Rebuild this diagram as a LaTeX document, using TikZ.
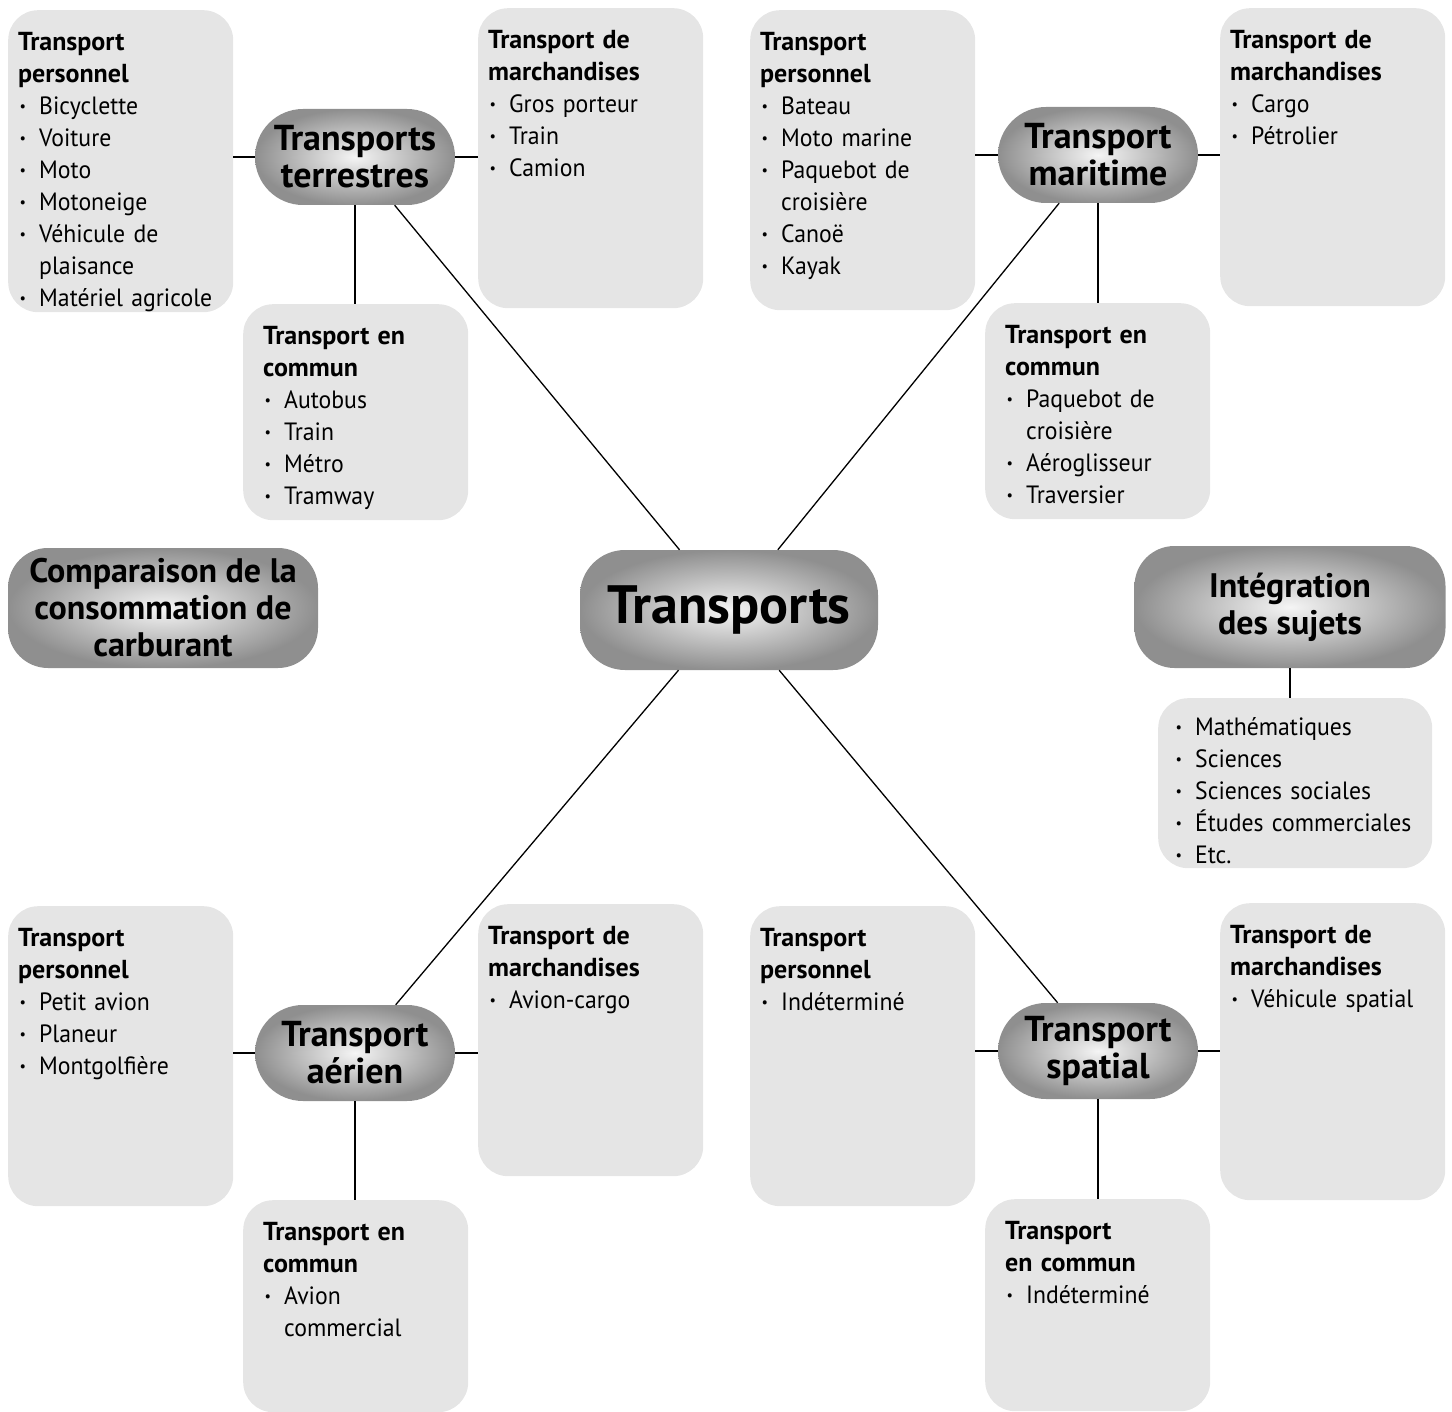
\documentclass[tikz,border=0pt]{standalone}
\usepackage{fontspec}
\setmainfont{PT Sans}[FakeStretch=0.95, BoldFeatures={FakeStretch=1.0}]
\usepackage{tikz}
\usetikzlibrary{shapes,arrows}
\tikzstyle{box} = [rectangle, fill=black!10, rounded corners=30pt, anchor=north west,
    text width=205pt, align=left, inner xsep=10pt, inner ysep=0pt, text height=40pt,
    font=\fontsize{25}{32}\selectfont]
\tikzstyle{hub} = [rectangle, rounded corners=48pt, inner color=black!4, outer color=black!44,
    align=center, inner sep=0pt, minimum width=200pt, minimum height=96pt,
    font=\fontsize{36}{37}\selectfont\bfseries]
\tikzstyle{line} = [draw, line width=1.3pt]
\newcommand\itm{\makebox[21pt][l]{\hspace{1.5pt}\raisebox{2.5pt}{\fontsize{15}{15}\selectfont\textbullet}}}
\newcommand\cont{\hspace*{21pt}}
\newcommand\hd[1]{{\fontsize{26}{32}\selectfont\bfseries #1}}

\begin{document}
\begin{tikzpicture}[x=1pt, y=-1pt]
\useasboundingbox (0,0) rectangle (1452,1412);

% centre
\node [hub, rounded corners=45pt, minimum width=298pt, minimum height=120pt,
    font=\fontsize{54}{56}\selectfont\bfseries] at (729,610) (ctr) {Transports};
\node [hub, rounded corners=40pt, minimum width=310pt, minimum height=120pt,
    font=\fontsize{34}{37}\selectfont\bfseries] at (163,608) (comp)
    {Comparaison de la\\consommation de\\carburant};
\node [hub, rounded corners=40pt, minimum width=311pt, minimum height=122pt,
    font=\fontsize{34}{37}\selectfont\bfseries] at (1290,607) (integ)
    {Intégration\\des sujets};
\node [box, inner xsep=16pt, text width=242pt, text height=37pt, text depth=133pt] at (1158,698) (sujets)
    {\itm Mathématiques\\ \itm Sciences\\ \itm Sciences sociales\\ \itm Études commerciales\\ \itm Etc.};

% terrestre
\node [hub] at (355,157) (hT) {Transports\\terrestres};
\node [box, text depth=262pt] at (8,10) (pT)
    {\hd{Transport}\\ \hd{personnel}\\ \itm Bicyclette\\ \itm Voiture\\ \itm Moto\\
     \itm Motoneige\\ \itm Véhicule de\\ \cont plaisance\\ \itm Matériel agricole};
\node [box, text depth=260pt] at (478,8) (mT)
    {\hd{Transport de}\\ \hd{marchandises}\\ \itm Gros porteur\\ \itm Train\\ \itm Camion};
\node [box, inner xsep=20pt, text width=185pt, text depth=176pt] at (243,304) (cT)
    {\hd{Transport en}\\ \hd{commun}\\ \itm Autobus\\ \itm Train\\ \itm Métro\\ \itm Tramway};

% maritime
\node [hub] at (1098,155) (hM) {Transport\\maritime};
\node [box, text depth=260pt] at (750,10) (pM)
    {\hd{Transport}\\ \hd{personnel}\\ \itm Bateau\\ \itm Moto marine\\ \itm Paquebot de\\
     \cont croisière\\ \itm Canoë\\ \itm Kayak};
\node [box, text depth=258pt] at (1220,8) (mM)
    {\hd{Transport de}\\ \hd{marchandises}\\ \itm Cargo\\ \itm Pétrolier};
\node [box, inner xsep=20pt, text width=185pt, text depth=176pt] at (985,303) (cM)
    {\hd{Transport en}\\ \hd{commun}\\ \itm Paquebot de\\ \cont croisière\\ \itm Aéroglisseur\\ \itm Traversier};

% aerien
\node [hub] at (355,1053) (hA) {Transport\\aérien};
\node [box, text depth=260pt] at (8,906) (pA)
    {\hd{Transport}\\ \hd{personnel}\\ \itm Petit avion\\ \itm Planeur\\ \itm Montgolfière};
\node [box, text depth=232pt] at (478,904) (mA)
    {\hd{Transport de}\\ \hd{marchandises}\\ \itm Avion-cargo};
\node [box, inner xsep=20pt, text width=185pt, text depth=172pt] at (243,1200) (cA)
    {\hd{Transport en}\\ \hd{commun}\\ \itm Avion\\ \cont commercial};

% spatial
\node [hub] at (1098,1051) (hS) {Transport\\spatial};
\node [box, text depth=260pt] at (750,906) (pS)
    {\hd{Transport}\\ \hd{personnel}\\ \itm Indéterminé};
\node [box, text depth=257pt] at (1220,903) (mS)
    {\hd{Transport de}\\ \hd{marchandises}\\ \itm Véhicule spatial};
\node [box, inner xsep=20pt, text width=185pt, text depth=172pt] at (985,1199) (cS)
    {\hd{Transport}\\ \hd{en commun}\\ \itm Indéterminé};

\draw [line] (hT) -- (ctr);
\draw [line] (hM) -- (ctr);
\draw [line] (hA) -- (ctr);
\draw [line] (hS) -- (ctr);
\draw [line] (integ.south) -- (integ.south |- sujets.north);

\draw [line] (hT.west) -- (hT.west -| pT.east);
\draw [line] (hT.east) -- (hT.east -| mT.west);
\draw [line] (hT.south) -- (hT.south |- cT.north);
\draw [line] (hM.west) -- (hM.west -| pM.east);
\draw [line] (hM.east) -- (hM.east -| mM.west);
\draw [line] (hM.south) -- (hM.south |- cM.north);
\draw [line] (hA.west) -- (hA.west -| pA.east);
\draw [line] (hA.east) -- (hA.east -| mA.west);
\draw [line] (hA.south) -- (hA.south |- cA.north);
\draw [line] (hS.west) -- (hS.west -| pS.east);
\draw [line] (hS.east) -- (hS.east -| mS.west);
\draw [line] (hS.south) -- (hS.south |- cS.north);
\end{tikzpicture}
\end{document}
